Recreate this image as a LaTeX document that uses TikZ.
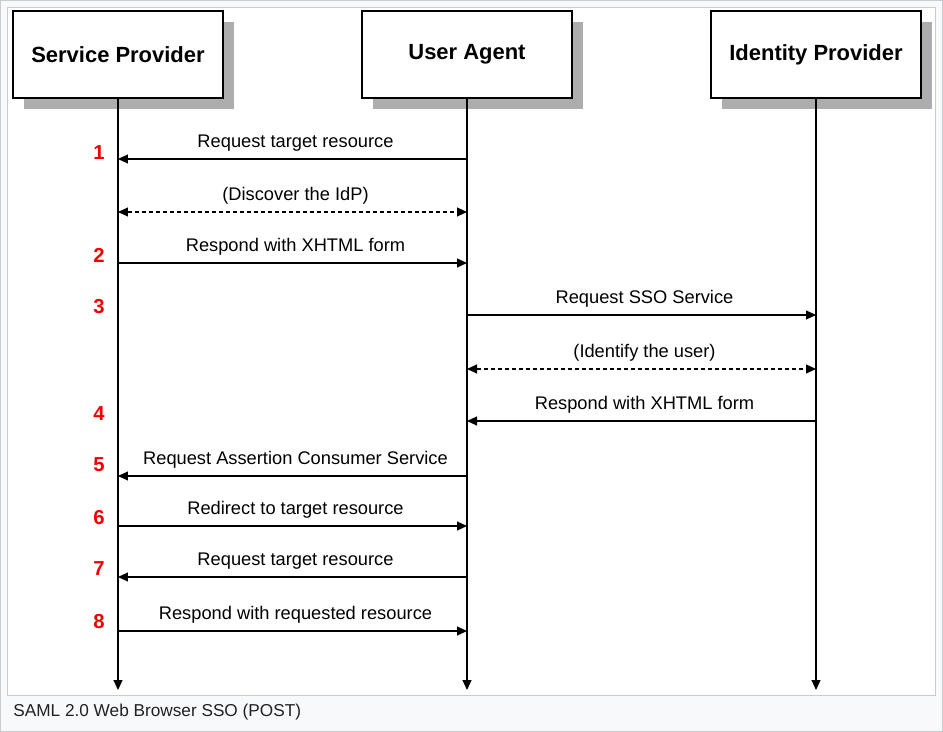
\documentclass[tikz,border=0pt]{standalone}
\usepackage{fontspec}
\setmainfont{Liberation Sans}
\usetikzlibrary{arrows.meta,shadows}
\definecolor{framegray}{HTML}{C8CCD1}
\definecolor{pagegray}{HTML}{F8F9FA}
\definecolor{captiongray}{HTML}{202122}
\definecolor{stepred}{HTML}{F20000}
\tikzset{
  actor/.style={draw, line width=0.028cm, fill=white, minimum width=4.2cm,
    minimum height=1.74cm, font=\fontsize{12.5}{15}\selectfont\bfseries,
    drop shadow={shadow xshift=0.22cm, shadow yshift=-0.22cm, fill=black!32, opacity=1}},
  lifeline/.style={line width=0.022cm, -{Triangle[length=0.2cm,width=0.18cm]}},
  msg/.style={line width=0.022cm, -{Triangle[length=0.2cm,width=0.18cm]}},
  msgboth/.style={line width=0.022cm, {Triangle[length=0.2cm,width=0.18cm]}-{Triangle[length=0.2cm,width=0.18cm]},
    dash pattern=on 0.08cm off 0.06cm},
  msglabel/.style={midway, anchor=base, yshift=0.23cm, xshift=0.06cm, font=\fontsize{10.4}{12}\selectfont},
  stepno/.style={font=\fontsize{11.5}{13}\selectfont\bfseries, text=stepred}
}
\begin{document}
\begin{tikzpicture}[x=0.02cm, y=-0.02cm]
                        \useasboundingbox (0,0) rectangle (943,732);
                        
                        % Drawing frame
                        \draw [framegray, fill=pagegray, line width=0.02cm] (0.5,0.5) rectangle (942.5,731.5);%
                        \draw [framegray, fill=white, line width=0.02cm] (7.5,7.5) rectangle (935.5,695.5);%
                        
                        % Drawing actors
                        \node [actor] (sp) at (118,54.5) {Service Provider};%
                        \node [actor] (ua) at (467,54.5) {User Agent};%
                        \node [actor] (idp) at (816,54.5) {Identity Provider};%
                        
                        % Drawing lifelines
                        \coordinate (spend) at (118,690);%
                        \coordinate (uaend) at (467,690);%
                        \coordinate (idpend) at (816,690);%
                        \draw [lifeline] (sp.south) -- (spend);%
                        \draw [lifeline] (ua.south) -- (uaend);%
                        \draw [lifeline] (idp.south) -- (idpend);%
                        
                        % Marking message rows on the lifelines
                        \foreach \row/\y in {1/159, d/212, 2/263, 3/315, i/369, 4/421, 5/476, 6/526, 7/577, 8/631} {
                          \coordinate (sp\row) at (118,\y);%
                          \coordinate (ua\row) at (467,\y);%
                          \coordinate (idp\row) at (816,\y);%
                        }
                        
                        % Drawing messages
                        \draw [msg] (ua1) -- node [msglabel] {Request target resource} (sp1);%
                        \draw [msgboth] (spd) -- node [msglabel] {(Discover the IdP)} (uad);%
                        \draw [msg] (sp2) -- node [msglabel] {Respond with XHTML form} (ua2);%
                        \draw [msg] (ua3) -- node [msglabel] {Request SSO Service} (idp3);%
                        \draw [msgboth] (uai) -- node [msglabel] {(Identify the user)} (idpi);%
                        \draw [msg] (idp4) -- node [msglabel] {Respond with XHTML form} (ua4);%
                        \draw [msg] (ua5) -- node [msglabel] {Request Assertion Consumer Service} (sp5);%
                        \draw [msg] (sp6) -- node [msglabel] {Redirect to target resource} (ua6);%
                        \draw [msg] (ua7) -- node [msglabel] {Request target resource} (sp7);%
                        \draw [msg] (sp8) -- node [msglabel] {Respond with requested resource} (ua8);%
                        
                        % Marking step numbers
                        \foreach \n/\y in {1/153, 2/255, 3/307, 4/414, 5/465, 6/518, 7/569, 8/622}
                          \node [stepno] (no\n) at (99,\y) {\n};%
                        
                        % Marking caption
                        \node [anchor=west, inner sep=0pt, text=captiongray, font=\fontsize{9.8}{12}\selectfont] (caption) at (13,712) {SAML 2.0 Web Browser SSO (POST)};%
                    \end{tikzpicture}
\end{document}
